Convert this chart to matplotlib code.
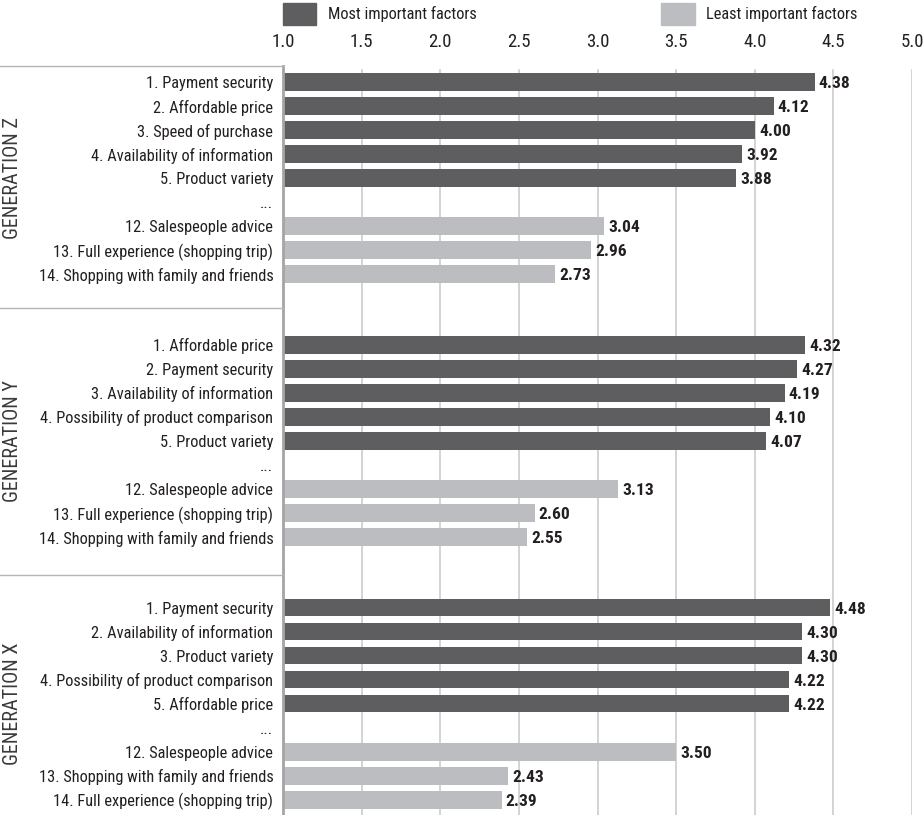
import matplotlib
matplotlib.use("Agg")
import matplotlib.pyplot as plt
import matplotlib.font_manager as fm
from matplotlib.patches import Rectangle
from matplotlib.lines import Line2D
from matplotlib.transforms import blended_transform_factory

# ---------------- data ----------------
groups = ["GENERATION Z", "GENERATION Y", "GENERATION X"]

gen_z_labels = ["1. Payment security", "2. Affordable price", "3. Speed of purchase",
                "4. Availability of information", "5. Product variety", "...",
                "12. Salespeople advice", "13. Full experience (shopping trip)",
                "14. Shopping with family and friends"]
gen_z_values = [4.38, 4.12, 4.00, 3.92, 3.88, None, 3.04, 2.96, 2.73]

gen_y_labels = ["1. Affordable price", "2. Payment security", "3. Availability of information",
                "4. Possibility of product comparison", "5. Product variety", "...",
                "12. Salespeople advice", "13. Full experience (shopping trip)",
                "14. Shopping with family and friends"]
gen_y_values = [4.32, 4.27, 4.19, 4.10, 4.07, None, 3.13, 2.60, 2.55]

gen_x_labels = ["1. Payment security", "2. Availability of information", "3. Product variety",
                "4. Possibility of product comparison", "5. Affordable price", "...",
                "12. Salespeople advice", "13. Shopping with family and friends",
                "14. Full experience (shopping trip)"]
gen_x_values = [4.48, 4.30, 4.30, 4.22, 4.22, None, 3.50, 2.43, 2.39]

row_kind = ["most", "most", "most", "most", "most", None, "least", "least", "least"]
legend_labels = ["Most important factors", "Least important factors"]
x_ticks = [1.0, 1.5, 2.0, 2.5, 3.0, 3.5, 4.0, 4.5, 5.0]

# ---------------- fonts ----------------
names = {f.name for f in fm.fontManager.ttflist}
cond_family = None
cond_stretch = "normal"
for n in ["Liberation Sans Narrow", "Roboto Condensed", "Open Sans Condensed",
          "Noto Sans Condensed", "DejaVu Sans Condensed"]:
    if n in names:
        cond_family = n
        break
if cond_family is None:
    for f in fm.fontManager.ttflist:
        if str(f.stretch) in ("condensed", "semi-condensed") and "Sans" in f.name:
            cond_family = f.name
            cond_stretch = f.stretch
            break
if cond_family is None:
    cond_family = "Liberation Sans"

FONT = dict(family=[cond_family, "DejaVu Sans"], stretch=cond_stretch)
plt.rcParams["font.family"] = [cond_family, "DejaVu Sans"]

DARK = "#5e5e60"
LIGHT = "#bcbdc0"
TEXT = "#231f20"
GRID = "#c8c8ca"

# ---------------- layout ----------------
W, H = 924, 815
fig = plt.figure(figsize=(W / 100, H / 100), dpi=100)
ax_left, ax_right, ax_top, ax_bottom = 283, 912, 66, 815
ax = fig.add_axes([ax_left / W, 1 - ax_bottom / H, (ax_right - ax_left) / W,
                   (ax_bottom - ax_top) / H])

group_step = 10.95
all_labels = [gen_z_labels, gen_y_labels, gen_x_labels]
all_values = [gen_z_values, gen_y_values, gen_x_values]

ytick_pos, ytick_lab = [], []
for g, (labs, vals) in enumerate(zip(all_labels, all_values)):
    for i, (lab, v) in enumerate(zip(labs, vals)):
        y = g * group_step + i
        ytick_pos.append(y)
        ytick_lab.append(lab)
        if v is None:
            continue
        col = DARK if row_kind[i] == "most" else LIGHT
        ax.barh(y, v - 1.0, left=1.0, height=0.72, color=col, zorder=2)
        ax.annotate(f"{v:.2f}", xy=(v, y), xytext=(3, -1), textcoords="offset points",
                    ha="left", va="center", fontsize=12.5, fontweight="bold",
                    color=TEXT, zorder=3, **FONT)

ax.set_xlim(1.0, 5.0)
ax.set_ylim(30.53, -0.67)

ax.set_xticks(x_ticks)
ax.set_xticklabels([f"{t:.1f}" for t in x_ticks], fontsize=13.5, color=TEXT, **FONT)
ax.xaxis.tick_top()
ax.tick_params(axis="x", length=0, pad=11)
ax.set_yticks(ytick_pos)
ax.set_yticklabels(ytick_lab, fontsize=11.8, color=TEXT, **FONT)
ax.tick_params(axis="y", length=0, pad=7)

for t in x_ticks[1:]:
    ax.axvline(t, color=GRID, lw=1.1, zorder=1, ymax=0.995)

for s in ["top", "right", "bottom"]:
    ax.spines[s].set_visible(False)
ax.spines["left"].set_color("#a5a5a7")
ax.spines["left"].set_linewidth(2.0)

# separators on left side
trans = blended_transform_factory(fig.transFigure, ax.transData)
sep_ys = [-0.67, (8 + group_step) / 2 - 0.05, (group_step + 8 + 2 * group_step) / 2 + 0.1]
for sy in sep_ys:
    fig.add_artist(Line2D([0, ax_left / W], [sy, sy], transform=trans,
                          color="#b5b5b7", lw=1.0, clip_on=False))

# group labels
for g, name in enumerate(groups):
    yc = g * group_step + 4
    t = fig.text(0, 0, name, transform=trans, rotation=90, ha="center",
                 va="center", fontsize=14.5, color="#3a3a3c", **FONT)
    t.set_position((13 / W, yc))

# legend
for (x0, x1), tx, col, lab in [((283, 316), 328, DARK, legend_labels[0]),
                                ((661, 695), 706, LIGHT, legend_labels[1])]:
    fig.add_artist(Rectangle((x0 / W, 1 - 25 / H), (x1 - x0) / W, 22 / H,
                             transform=fig.transFigure, color=col))
    fig.text(tx / W, 1 - 14 / H, lab, ha="left", va="center", fontsize=11.8,
             color=TEXT, **FONT)

fig.savefig("out.png", dpi=100)
